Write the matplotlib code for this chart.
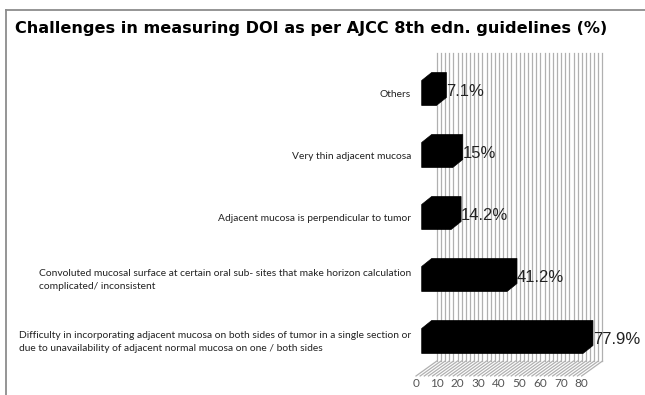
import numpy as np
import matplotlib.pyplot as plt
from matplotlib.patches import Polygon
from matplotlib.lines import Line2D

title = "Challenges in measuring DOI as per AJCC 8th edn. guidelines (%)"
# bottom to top
categories = [
    "Difficulty in incorporating adjacent mucosa on both sides of tumor in a single section or\n"
    "due to unavailability of adjacent normal mucosa on one / both sides",
    "Convoluted mucosal surface at certain oral sub- sites that make horizon calculation\n"
    "complicated/ inconsistent",
    "Adjacent mucosa is perpendicular to tumor",
    "Very thin adjacent mucosa",
    "Others",
]
values = [77.9, 41.2, 14.2, 15, 7.1]
value_labels = ["77.9%", "41.2%", "14.2%", "15%", "7.1%"]
ticks = [0, 10, 20, 30, 40, 50, 60, 70, 80]

W, H = 645, 395
fig = plt.figure(figsize=(W / 100, H / 100), dpi=100)
ax = fig.add_axes([0, 0, 1, 1])

sx, sy = 2.07, 62.0
x0_px, y0_px = 421.7, 341  # value 0 / first slot centre, on the bar front plane
ax.set_xlim(-x0_px / sx, (W - x0_px) / sx)
ax.set_ylim(-(H - y0_px) / sy, y0_px / sy)
ax.axis('off')

# fake 3d: offsets of the other planes relative to the bar front plane
wall_dx, wall_dy = 15.2 / sx, 11 / sy
front_dx, front_dy = -5.7 / sx, -4 / sy
bar_dx, bar_dy = 10 / sx, 8 / sy
bar_h = 25 / sy
floor_k = -0.5
top_k = len(categories) - 0.5 - 2 / sy
xmax = ticks[-1]

# back wall, vertical line pattern, continued over the floor
for v in np.arange(0, xmax + 0.1, 2):
    ax.plot([v + wall_dx] * 2, [floor_k + wall_dy, top_k + wall_dy],
            color='#b0b0b0', lw=0.9, zorder=1)
    ax.plot([v + wall_dx, v + front_dx], [floor_k + wall_dy, floor_k + front_dy],
            color='#b0b0b0', lw=0.9, zorder=1)

# bars: front face + top + side, all black so one outline
for k, v in enumerate(values):
    yb, yt = k - bar_h / 2, k + bar_h / 2
    pts = [(0, yb), (0, yt), (bar_dx, yt + bar_dy), (v + bar_dx, yt + bar_dy),
           (v + bar_dx, yb + bar_dy), (v, yb)]
    ax.add_patch(Polygon(pts, closed=True, facecolor='black', edgecolor='black',
                         lw=0.5, zorder=3))
    ax.text(v + bar_dx, k + 0.02, value_labels[k], ha='left', va='center', fontsize=12,
            family='Liberation Sans', color='#222222', zorder=4)
    ax.text(-5.2, k - 0.02, categories[k], ha='right', va='center',
            multialignment='left', fontsize=7.35, family='Lato', color='#222222',
            linespacing=1.5)

for t in ticks:
    ax.text(t + front_dx, floor_k + front_dy - 2 / sy, str(t), ha='center', va='top',
            fontsize=8.5, family='Lato', color='#555555')

fig.text(15 / W, 1 - 29 / H, title, fontsize=11.6, fontweight='bold', ha='left',
         va='center', family='DejaVu Sans')

# frame, only left and top edges fall inside the picture
fig.add_artist(Line2D([6 / W, 6 / W], [0, 1 - 10 / H], transform=fig.transFigure,
                      color='#8c8c8c', lw=1.3))
fig.add_artist(Line2D([6 / W, 1], [1 - 10 / H, 1 - 10 / H], transform=fig.transFigure,
                      color='#8c8c8c', lw=1.3))

fig.savefig('out.png', dpi=100)
